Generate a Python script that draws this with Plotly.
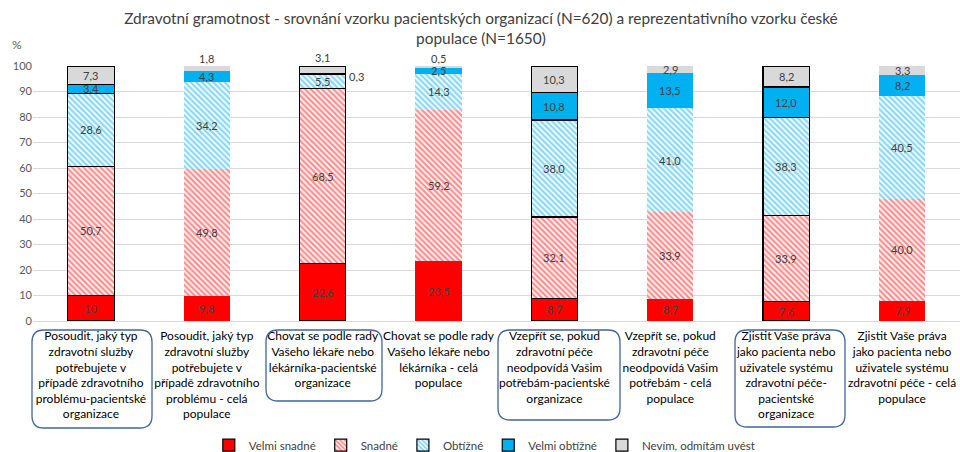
import plotly.graph_objects as go

categories = [
    "Posoudit, jaký typ<br>zdravotní služby<br>potřebujete v<br>případě zdravotního<br>problému-pacientské<br>organizace",
    "Posoudit, jaký typ<br>zdravotní služby<br>potřebujete v<br>případě zdravotního<br>problému - celá<br>populace",
    "Chovat se podle rady<br>Vašeho lékaře nebo<br>lékárníka-pacientské<br>organizace",
    "Chovat se podle rady<br>Vašeho lékaře nebo<br>lékárníka - celá<br>populace",
    "Vzepřít se, pokud<br>zdravotní péče<br>neodpovídá Vašim<br>potřebám-pacientské<br>organizace",
    "Vzepřít se, pokud<br>zdravotní péče<br>neodpovídá Vašim<br>potřebám - celá<br>populace",
    "Zjistit Vaše práva<br>jako pacienta nebo<br>uživatele systému<br>zdravotní péče-<br>pacientské<br>organizace",
    "Zjistit Vaše práva<br>jako pacienta nebo<br>uživatele systému<br>zdravotní péče - celá<br>populace",
]
velmi_snadne = [10, 9.8, 22.6, 23.5, 8.7, 8.7, 7.6, 7.9]
snadne = [50.7, 49.8, 68.5, 59.2, 32.1, 33.9, 33.9, 40.0]
obtizne = [28.6, 34.2, 5.5, 14.3, 38.0, 41.0, 38.3, 40.5]
velmi_obtizne = [3.4, 4.3, 0.3, 2.5, 10.8, 13.5, 12.0, 8.2]
nevim = [7.3, 1.8, 3.1, 0.5, 10.3, 2.9, 8.2, 3.3]
is_org = [True, False, True, False, True, False, True, False]
y_ticks = list(range(0, 101, 10))

FONT = "Lato, Calibri, Carlito, sans-serif"
x = list(range(len(categories)))

series = [
    ("Velmi snadné", velmi_snadne, dict(color="#FF0000")),
    ("Snadné", snadne, dict(color="white", pattern=dict(shape="\\", fgcolor="#FF2020", bgcolor="white", size=4, solidity=0.6, fillmode="overlay"))),
    ("Obtížné", obtizne, dict(color="white", pattern=dict(shape="\\", fgcolor="#1AB2EE", bgcolor="white", size=4, solidity=0.6, fillmode="overlay"))),
    ("Velmi obtížné", velmi_obtizne, dict(color="#00B0F0")),
    ("Nevím, odmítám uvést", nevim, dict(color="#D9D9D9")),
]

fig = go.Figure()
line_w = [1.2 if o else 0 for o in is_org]
line_c = ["#000000" if o else "rgba(0,0,0,0)" for o in is_org]
for name, vals, marker in series:
    m = dict(marker)
    m["line"] = dict(width=line_w, color=line_c)
    fig.add_trace(go.Bar(x=x, y=vals, name=name, marker=m, width=0.4, hoverinfo="skip"))


def fmt(v):
    return f"{v:.1f}".replace(".", ",")


# label nudges (pixel offsets) for small segments
nudges = {
    (4, 1): (0, 10), (4, 2): (0, 12), (4, 3): (0, 8),
    (3, 2): (34, -2),
}

annotations = []
base = [0.0] * len(x)
for si, (name, vals, marker) in enumerate(series):
    for i, v in enumerate(vals):
        mid = base[i] + v / 2
        txt = fmt(v)
        if si == 0 and i == 0:
            txt = "10"
        dx, dy = nudges.get((si, i), (0, 0))
        annotations.append(dict(x=i, y=mid, xref="x", yref="y", text=txt, showarrow=False,
                                xshift=dx, yshift=dy,
                                font=dict(family=FONT, size=11, color="#404040")))
        base[i] += v

annotations.append(dict(x=-0.017, y=1.086, xref="paper", yref="paper", text="%", showarrow=False,
                        xanchor="center", yanchor="middle",
                        font=dict(family=FONT, size=12, color="#595959")))

# rounded boxes around organization labels (pixel-based -> paper coords)
L, R, T, B = 33, 0, 66, 131
W, H = 960, 452
pw, ph = W - L - R, H - T - B


def rr(x0, y0, x1, y1, r=12):
    def px(v):
        return (v - L) / pw

    def py(v):
        return (H - B - v) / ph

    return (f"M {px(x0 + r)} {py(y0)} L {px(x1 - r)} {py(y0)} Q {px(x1)} {py(y0)} {px(x1)} {py(y0 + r)} "
            f"L {px(x1)} {py(y1 - r)} Q {px(x1)} {py(y1)} {px(x1 - r)} {py(y1)} "
            f"L {px(x0 + r)} {py(y1)} Q {px(x0)} {py(y1)} {px(x0)} {py(y1 - r)} "
            f"L {px(x0)} {py(y0 + r)} Q {px(x0)} {py(y0)} {px(x0 + r)} {py(y0)} Z")


boxes = [(32, 330, 152, 428), (266, 330, 382, 401), (498, 330, 620, 420), (735, 330, 845, 427)]
shapes = [dict(type="path", path=rr(*b), xref="paper", yref="paper",
               line=dict(color="#41659A", width=1.3)) for b in boxes]

fig.update_layout(
    template="none",
    barmode="stack",
    width=W, height=H,
    margin=dict(l=L, r=R, t=T, b=B, autoexpand=False),
    plot_bgcolor="white", paper_bgcolor="white",
    font=dict(family=FONT, size=12, color="#404040"),
    title=dict(text="Zdravotní gramotnost - srovnání vzorku pacientských organizací (N=620) a reprezentativního vzorku české<br>populace (N=1650)",
               x=0.501, xanchor="center", y=0.948, yanchor="top",
               font=dict(family=FONT, size=15.4, color="#404040")),
    xaxis=dict(tickmode="array", tickvals=x, ticktext=categories, range=[-0.5, 7.5],
               showgrid=False, showline=True, linecolor="#D9D9D9", automargin=False,
               tickangle=0, ticklabelstandoff=4,
               tickfont=dict(family=FONT, size=12, color="#000000"), ticks=""),
    yaxis=dict(range=[0, 100], tickvals=y_ticks, showgrid=True, gridcolor="#D9D9D9",
               automargin=False, zeroline=False,
               tickfont=dict(family=FONT, size=11, color="#595959"), ticks=""),
    legend=dict(orientation="h", x=0.505, xanchor="center", xref="container",
                y=0.015, yanchor="middle", yref="container",
                font=dict(family=FONT, size=11.5, color="#404040"), traceorder="normal",
                itemwidth=30),
    annotations=annotations,
    shapes=shapes,
    bargap=0.6,
)

fig.write_html("out.html", config={"displayModeBar": False},
               post_script="document.body.style.margin='0';document.body.style.padding='0';document.body.style.overflow='hidden';")
